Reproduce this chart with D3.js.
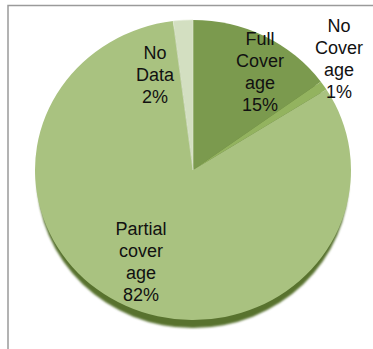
<!DOCTYPE html>
<html>
<head>
<meta charset="utf-8">
<script src="https://cdn.jsdelivr.net/npm/d3@7"></script>
<style>
  html, body { margin: 0; padding: 0; background: #fff; }
  svg { display: block; }
</style>
</head>
<body>
<svg id="chart" width="373" height="349"></svg>
<script>
// ---- data ----
const categories = ["Full Coverage", "No Coverage", "Partial coverage", "No Data"];
const values = [15, 1, 82, 2];
const labelLines = [
  ["Full", "Cover", "age", "15%"],
  ["No", "Cover", "age", "1%"],
  ["Partial", "cover", "age", "82%"],
  ["No", "Data", "2%"]
];
const colors = ["#7b9a4e", "#93b35f", "#a9c280", "#d3dfc1"];

// ---- layout ----
const cx = 193, cy = 170, R = 158, squash = 0.95;
const labelAnchors = [[260, 45], [339, 32], [141, 235], [155, 59]]; // first baseline
const lineH = 22;

const svg = d3.select("#chart");

// frame
svg.append("rect")
  .attr("x", 8).attr("y", 5.5)
  .attr("width", 420).attr("height", 400)
  .attr("fill", "none").attr("stroke", "#9a9a9a").attr("stroke-width", 1.5);

const defs = svg.append("defs");
defs.append("filter").attr("id", "blur")
  .append("feGaussianBlur").attr("stdDeviation", 1.2);

const pie = d3.pie().sort(null).value(d => d);
const arcs = pie(values);
const arc = d3.arc().innerRadius(0).outerRadius(R);

// 3D-ish bottom edge
svg.append("ellipse")
  .attr("cx", cx).attr("cy", cy + 8)
  .attr("rx", R - 2).attr("ry", R * squash)
  .attr("fill", "#58722f")
  .attr("filter", "url(#blur)");

const g = svg.append("g")
  .attr("transform", `translate(${cx},${cy}) scale(1,${squash})`);

g.selectAll("path.slice")
  .data(arcs)
  .join("path")
  .attr("class", "slice")
  .attr("d", arc)
  .attr("fill", (d, i) => colors[i])
  .attr("stroke", (d, i) => i === 3 ? "#e4ecd8" : "none")
  .attr("stroke-width", 0.6);

// labels
const lg = svg.append("g")
  .attr("font-family", "'Liberation Sans', Arial, sans-serif")
  .attr("font-size", 18)
  .attr("fill", "#111")
  .attr("text-anchor", "middle");

labelLines.forEach((lines, i) => {
  const t = lg.append("text")
    .attr("x", labelAnchors[i][0])
    .attr("y", labelAnchors[i][1]);
  lines.forEach((ln, j) => {
    t.append("tspan")
      .attr("x", labelAnchors[i][0])
      .attr("y", labelAnchors[i][1] + j * lineH)
      .text(ln);
  });
});
</script>
</body>
</html>
